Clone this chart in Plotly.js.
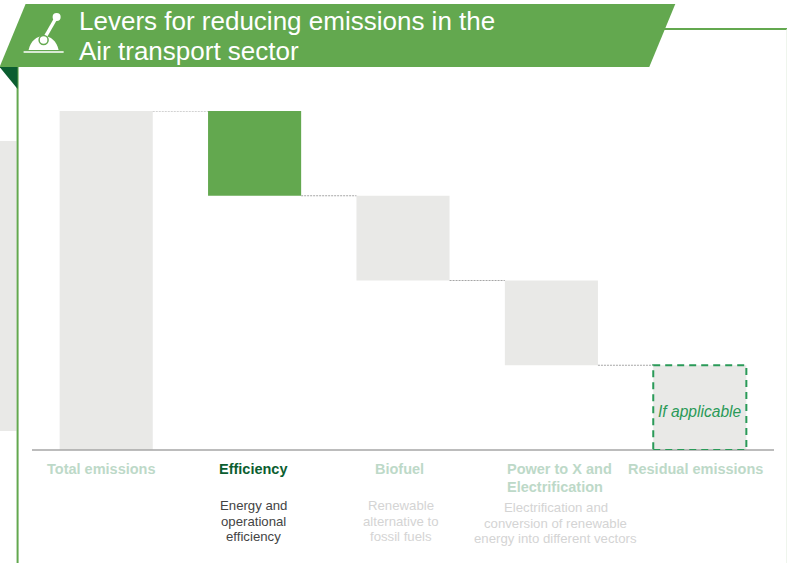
<!DOCTYPE html>
<html><head><meta charset="utf-8">
<script src="https://cdn.plot.ly/plotly-3.0.1.min.js"></script>
<style>html,body{margin:0;padding:0;background:#fff;overflow:hidden}#c{width:787px;height:563px}</style>
</head><body><div id="c"></div>
<script>
const categories = ['Total emissions','Efficiency','Biofuel','Power to X and Electrification','Residual emissions'];
const barBase = [0,75,50,25,0];
const barHeight = [100,25,25,25,25];
const barColors = ['#e9e9e7','#63a84f','#e9e9e7','#e9e9e7','#e9e9e7'];
const connectorLevels = [100,75,50,25];
const W=787,H=563,L=32.4,R=13.4,T=111,B=113;
const fx=x=>(x-L)/(W-L-R), fy=y=>1-(y-T)/(H-T-B);
const P=(x,y)=>fx(x)+','+fy(y);
const poly=(pts,fill)=>({type:'path',xref:'paper',yref:'paper',layer:'above',fillcolor:fill,line:{width:0},
  path:'M'+pts.map(p=>P(p[0],p[1])).join(' L')+' Z'});
const seg=(x0,y0,x1,y1,color,width)=>({type:'line',xref:'paper',yref:'paper',layer:'above',x0:fx(x0),y0:fy(y0),x1:fx(x1),y1:fy(y1),line:{color,width}});
const circ=(cx,cy,r,fill,lc,lw)=>({type:'circle',xref:'paper',yref:'paper',layer:'above',x0:fx(cx-r),x1:fx(cx+r),y0:fy(cy+r),y1:fy(cy-r),fillcolor:fill,line:{color:lc||fill,width:lw||0}});
const barHalf=0.3137;
const shapes=[
  poly([[0,141],[17,141],[17,431],[0,431]],'#e9e9e7'),
  seg(18,67,18,563,'#63a84f',2),
  seg(660,29,787,29,'#63a84f',2),
  seg(786.5,29,786.5,563,'#e4efe0',1),
  poly([[26,4],[675,4],[649,67],[0,67]],'#63a84f'),
  poly([[0,67],[18,67],[18,89]],'#0b5e30'),
  seg(45,38,57,17,'#ffffff',3.5),
  circ(57,17,4,'#ffffff'),
  {type:'path',xref:'paper',yref:'paper',layer:'above',fillcolor:'#ffffff',line:{width:0},
   path:'M'+P(29,50)+' C'+P(31,41)+' '+P(37,36)+' '+P(44,36)+' C'+P(51,36)+' '+P(57,41)+' '+P(59,50)+' Z'},
  circ(44,40,4.5,'#ffffff','#63a84f',1.5),
  seg(24,52,64,52,'#ffffff',1.5),
  seg(32.4,450,773.6,450,'#a6a6a6',1.6)
];
connectorLevels.forEach((v,i)=>shapes.push({type:'line',xref:'x',yref:'y',layer:'above',x0:i+barHalf,x1:i+1-barHalf,y0:v,y1:v,line:{color:'#a6a6a6',width:1,dash:'2px,1px'}}));
shapes.push({type:'rect',xref:'x',yref:'y',layer:'above',x0:4-barHalf,x1:4+barHalf,y0:barBase[4],y1:barBase[4]+barHeight[4],line:{color:'#2a9a58',width:2,dash:'7px,5px'},fillcolor:'rgba(0,0,0,0)'});

const labelLines=[['Total emissions'],['Efficiency'],['Biofuel'],['Power to X and','Electrification'],['Residual emissions']];
const labelColors=['#bdd9c8','#0b5e30','#bdd9c8','#bdd9c8','#bdd9c8'];
const labelX=[102,254,400,505.5,695.5];
const descLines=[['Energy and','operational','efficiency'],['Renewable','alternative to','fossil fuels'],['Electrification and','conversion of renewable','energy into different vectors']];
const descColors=['#444444','#d4d4d4','#d4d4d4'];
const descX=[254,401,555.5];
const descY=[505.5,505.5,507.5];
const F='"Liberation Sans",Arial,sans-serif';
const ann=(x,y,text,size,color,extra)=>Object.assign({xref:'paper',yref:'paper',x:fx(x),y:fy(y),text,showarrow:false,xanchor:'center',yanchor:'middle',align:'center',borderpad:0,font:{family:F,size,color}},extra||{});
const annotations=[
  ann(78,20.5,'Levers for reducing emissions in the',26,'#ffffff',{xanchor:'left'}),
  ann(78,51.5,'Air transport sector',26,'#ffffff',{xanchor:'left'}),
  ann(700,411.5,'<i>If applicable</i>',15.6,'#2a9a58')
];
labelLines.forEach((ls,i)=>ls.forEach((t,j)=>annotations.push(ann(labelX[i],469+j*18,'<b>'+t+'</b>',14.5,labelColors[i],i==3?{xanchor:'left'}:{}))));
descLines.forEach((ls,i)=>ls.forEach((t,j)=>annotations.push(ann(descX[i],descY[i]+j*15.5,t,13.2,descColors[i]))));
Plotly.newPlot('c',[{type:'bar',x:categories,y:barHeight,base:barBase,marker:{color:barColors,line:{width:0}},hoverinfo:'skip'}],{
  width:W,height:H,margin:{l:L,r:R,t:T,b:B,pad:0},paper_bgcolor:'#fff',plot_bgcolor:'#fff',showlegend:false,bargap:0.3726,
  xaxis:{type:'category',range:[-0.5,4.5],showgrid:false,zeroline:false,showticklabels:false,ticks:'',showline:false},
  yaxis:{range:[0,100],visible:false,showgrid:false,zeroline:false},
  shapes,annotations
},{displayModeBar:false,staticPlot:true});
</script></body></html>
